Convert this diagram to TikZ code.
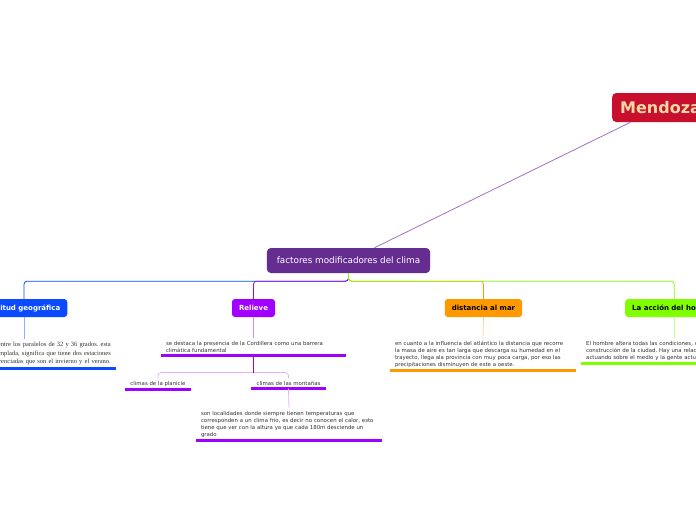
\documentclass[tikz,border=0pt]{standalone}
\usepackage{fontspec}
\setmainfont{DejaVu Sans}
\newfontfamily\timesfont{Liberation Serif}
\frenchspacing

\definecolor{mzred}{HTML}{C8102E}
\definecolor{mztext}{HTML}{F3D9A4}
\definecolor{linkpurple}{HTML}{9E72C4}
\definecolor{centerpurple}{HTML}{662D91}
\definecolor{latblue}{HTML}{0A4BFF}
\definecolor{relviolet}{HTML}{A100FF}
\definecolor{distorange}{HTML}{FF9900}
\definecolor{accgreen}{HTML}{80FF00}
\definecolor{notegray}{HTML}{333333}

\tikzset{
  main/.style={fill=#1, rounded corners=3pt, inner xsep=7pt, minimum height=18pt,
    font=\bfseries\fontsize{7}{8}\selectfont},
  note/.style={anchor=north, inner xsep=5pt, inner ysep=3pt, align=left, text=notegray,
    font=\fontsize{5.4}{7}\selectfont},
  ul/.style={line width=3pt, #1},
  link/.style={line width=0.8pt, rounded corners=3pt, #1},
}

\begin{document}
\begin{tikzpicture}[x=1pt, y=-1pt]
		% frame
		\useasboundingbox (0,0) rectangle (696,520);
		\clip (0,0) rectangle (696,520);
		% main topics
		\node[anchor=west, fill=mzred, text=mztext, rounded corners=4pt, minimum height=29pt,
		  inner xsep=8pt, font=\bfseries\fontsize{16}{18}\selectfont] (mendoza) at (612,107.5) {Mendoza};
		\node[fill=centerpurple, text=white, rounded corners=4pt, minimum height=25pt, inner xsep=10pt,
		  font=\fontsize{8.8}{10}\selectfont] (central) at (348.5,260.5) {factores modificadores del clima};
		\draw[linkpurple, line width=0.8pt] (mendoza) -- (central);
		% branches
		\node[main=latblue, text=white] (lat) at (24,308) {Latitud geográfica};
		\node[main=relviolet, text=white] (rel) at (253.5,308) {Relieve};
		\node[main=distorange, text=black] (dist) at (483.5,308) {distancia al mar};
		\node[main=accgreen, text=black, anchor=west] (acc) at (625,308) {La acción del hombre};
		\path (central.south) ++(0,8) coordinate (hub);
		\draw[link=latblue] (central.south) -- (hub) -| (lat.north);
		\draw[link=relviolet] (central.south) -- (hub) -| (rel.north);
		\draw[link=distorange] (central.south) -- (hub) -| (dist.north);
		\draw[link=accgreen] (central.south) -- (hub) -| (acc.north);
		% notes
		\node[note, anchor=north east, text width=220pt, align=right, font=\timesfont\fontsize{6.5}{8.5}\selectfont] (latT) at (116,339)
		  {Mendoza se encuentra entre los paralelos de 32 y 36 grados. esta\\clima es templada, significa que tiene dos estaciones\\bien diferenciadas que son el invierno y el verano.};
		\node[note, text width=175pt] (relT) at (253.5,338)
		  {se destaca la presencia de la Cordillera como una barrera\\climática fundamental};
		\node[note, text width=176pt] (distT) at (483,338)
		  {en cuanto a la influencia del atlántico la distancia que recorre\\la masa de aire es tan larga que descarga su humedad en el\\trayecto, llega ala provincia con muy poca carga, por eso las\\precipitaciones disminuyen de este a oeste.};
		\node[note, text width=174pt, anchor=north west] (accT) at (581,338)
		  {El hombre altera todas las condiciones, con la\\construcción de la ciudad. Hay una relación\\actuando sobre el medio y la gente actuando};
		\draw[ul=latblue] (latT.south west) -- (latT.south east);
		\draw[ul=relviolet] (relT.south west) -- (relT.south east);
		\draw[ul=distorange] (distT.south west) -- (distT.south east);
		\draw[ul=accgreen] (accT.south west) -- (accT.south east);
		\draw[link=latblue!45] (lat.south) -- (latT.north -| lat.south);
		\draw[link=relviolet!45] (rel.south) -- (relT.north);
		\draw[link=distorange!40] (dist.south) -- (distT.north);
		\draw[link=accgreen!45] (acc.south) -- (accT.north -| acc.south);
		% relieve subtopics
		\node[note] (plan) at (158,378) {climas de la planicie};
		\node[note] (mont) at (288.5,378) {climas de las montañas};
		\node[note, text width=176pt] (montT) at (289,408)
		  {son localidades donde siempre tienen temperaturas que\\corresponden a un clima frío, es decir no conocen el calor, esto\\tiene que ver con la altura ya que cada 180m desciende un\\grado};
		\draw[ul=relviolet] (plan.south west) -- (plan.south east);
		\draw[ul=relviolet] (mont.south west) -- (mont.south east);
		\draw[ul=relviolet] (montT.south west) -- (montT.south east);
		\path (relT.south) ++(0,17) coordinate (relhub);
		\draw[link=relviolet!30] (relhub) -| (plan.north);
		\draw[link=relviolet!30] (relhub) -| (mont.north);
		\draw[link=relviolet] (relT.south) -- (relhub);
		\draw[link=relviolet!30] (mont.south) -- (montT.north);
	\end{tikzpicture}
\end{document}
